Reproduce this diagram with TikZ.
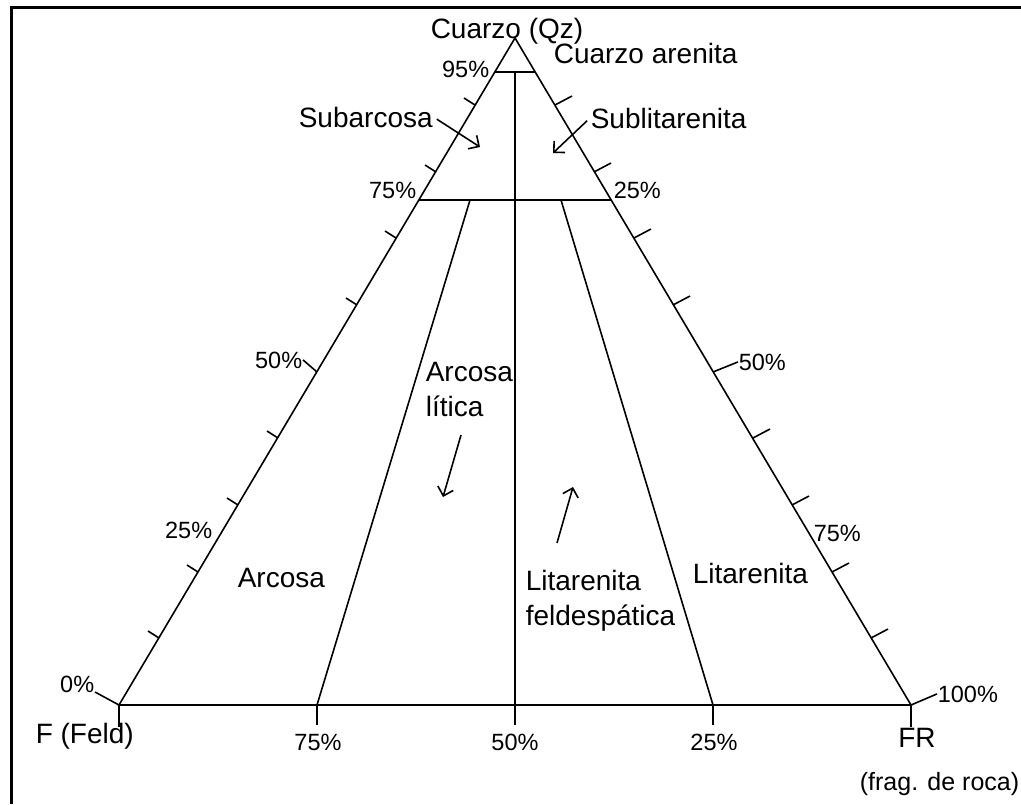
\documentclass[tikz,border=0pt]{standalone}
\usepackage{fontspec}
\setmainfont{Liberation Sans}
\usetikzlibrary{arrows.meta}

\begin{document}
\begin{tikzpicture}[x=0.5pt,y=-0.5pt,line width=0.8pt,
    >={Straight Barb[length=4pt,width=8pt]},
    big/.style={font=\fontsize{14}{17.5}\selectfont, inner sep=0pt},
    pct/.style={font=\fontsize{11.75}{14}\selectfont, inner sep=0pt},
    small/.style={font=\fontsize{12.5}{15}\selectfont, inner sep=0pt}]
    \useasboundingbox (0,0) rectangle (1021,804);

    % Frame
    \draw[line width=1.5pt] (11,804) -- (11,7) -- (1021,7);

    % Triangle
    \coordinate (Q) at (515,38);
    \coordinate (F) at (119,705);
    \coordinate (FR) at (911,705);
    \draw (F) -- (Q) -- (FR) -- cycle;

    % Fields
    \draw (495,72) -- (535,72);
    \draw (419,200) -- (611,200);
    \draw (515,72) -- (515,705);
    \draw (470,200) -- (317,705);
    \draw (561,200) -- (713,705);

    % Base ticks
    \draw (F) -- ++(0,22);
    \draw (317,705) -- ++(0,20);
    \draw (515,705) -- ++(0,20);
    \draw (713,705) -- ++(0,20);
    \draw (FR) -- ++(0,22);

    % Left side ticks
    \draw (159,638) -- ++(-11,-7);
    \draw (198,572) -- ++(-11,-7);
    \draw (238,505) -- ++(-11,-7);
    \draw (278,438) -- ++(-11,-7);
    \draw (357,305) -- ++(-11,-7);
    \draw (396,238) -- ++(-11,-7);
    \draw (436,172) -- ++(-11,-7);
    \draw (475,105) -- ++(-11,-7);

    % Right side ticks
    \draw (871,638) -- ++(17,-9);
    \draw (832,572) -- ++(17,-9);
    \draw (792,505) -- ++(17,-9);
    \draw (753,438) -- ++(17,-9);
    \draw (673,305) -- ++(17,-9);
    \draw (634,238) -- ++(17,-9);
    \draw (594,172) -- ++(17,-9);
    \draw (555,105) -- ++(17,-9);

    % Labels
    \node[big, anchor=base] (qz) at (507,38) {Cuarzo (Qz)};
    \node[big, anchor=base west] (qzaren) at (553,63) {Cuarzo arenita};
    \node[pct, anchor=base east] (p95) at (490,77) {95\%};
    \node[big, anchor=base west] (subarc) at (298,127) {Subarcosa};
    \node[big, anchor=base west] (sublit) at (590,128) {Sublitarenita};
    \node[pct, anchor=base east] (p75l) at (417,198) {75\%};
    \node[pct, anchor=base west] (p25r) at (613,198) {25\%};
    \node[pct, anchor=base east] (p50l) at (303,368) {50\%};
    \node[pct, anchor=base west] (p50r) at (738,370) {50\%};
    \node[pct, anchor=base east] (p25l) at (213,538) {25\%};
    \node[pct, anchor=base west] (p75r) at (813,541) {75\%};
    \node[big, anchor=base west] (arcosa) at (237,587) {Arcosa};
    \node[big, align=left, anchor=north west] (arclit) at (425,361) {Arcosa\\lítica};
    \node[big, align=left, anchor=north west] (litfeld) at (525,569) {Litarenita\\feldespática};
    \node[big, anchor=base west] (litar) at (692,583) {Litarenita};
    \node[big, anchor=base west] (feld) at (35,743) {F (Feld)};
    \node[pct, anchor=base] (b75) at (318,750) {75\%};
    \node[pct, anchor=base] (b50) at (515,750) {50\%};
    \node[pct, anchor=base] (b25) at (714,750) {25\%};
    \node[big, anchor=base] (fr) at (917,747) {FR};
    \node[small, anchor=base east] (frag) at (1020,790) {(frag. de roca)};
    \node[pct, anchor=base east] (p0) at (95,692) {0\%};
    \node[pct, anchor=base west] (p100) at (937,702) {100\%};

    % Leaders
    \coordinate (l50) at (317,372);
    \coordinate (r50) at (713,372);
    \draw (p0.base east) -- (F);
    \draw (p100.west) -- (FR);
    \draw (p50l.east) -- (l50);
    \draw (p50r.west) -- (r50);

    % Arrows
    \coordinate (subarcpt) at (480,147);
    \coordinate (sublitpt) at (553,153);
    \coordinate (arclitfrom) at (461,435);
    \coordinate (arclitpt) at (443,497);
    \coordinate (litfeldfrom) at (557,543);
    \coordinate (litfeldpt) at (573,487);
    \draw[->, shorten <=2pt] (subarc.east) -- (subarcpt);
    \draw[->, shorten <=2pt] (sublit.west) -- (sublitpt);
    \draw[->] (arclitfrom) -- (arclitpt);
    \draw[->] (litfeldfrom) -- (litfeldpt);
\end{tikzpicture}
\end{document}
